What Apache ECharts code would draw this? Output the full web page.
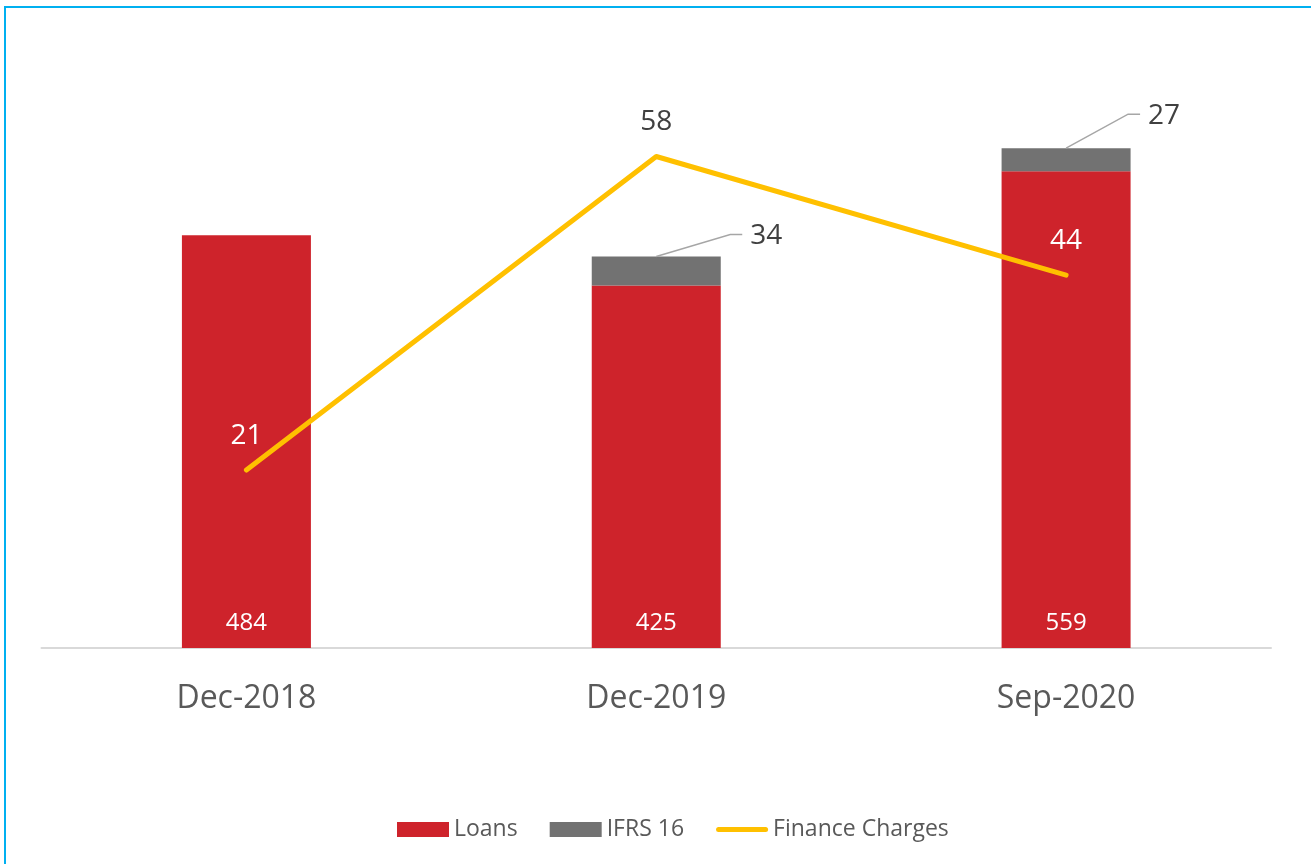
<!DOCTYPE html>
<html>
<head>
<meta charset="utf-8">
<script src="https://cdn.jsdelivr.net/npm/echarts@6/dist/echarts.min.js"></script>
<style>
  html, body { margin: 0; padding: 0; background: #fff; overflow: hidden; }
  #frame { position: absolute; left: 4px; top: 6px; width: 1400px; height: 1000px;
           border-top: 2px solid #00B0F0; border-left: 2px solid #00B0F0; }
  #chart { position: absolute; left: 0; top: 0; width: 1311px; height: 864px; }
</style>
</head>
<body>
<div id="frame"></div>
<div id="chart"></div>
<script>
(function () {
  var categories = ['Dec-2018', 'Dec-2019', 'Sep-2020'];
  var loans = [484, 425, 559];
  var ifrs16 = [0, 34, 27];
  var financeCharges = [21, 58, 44];

  var myChart = echarts.init(document.getElementById('chart'));
  var font = '"Open Sans", "Noto Sans", sans-serif';

  // top of each stack + the IFRS value, for the leader-line labels
  var ifrsLabels = [];
  for (var i = 0; i < categories.length; i++) {
    ifrsLabels.push([i, loans[i] + ifrs16[i], ifrs16[i]]);
  }
  // leader line elbow offsets (as placed in the original)
  var leaderOffsets = [[74, -22], [74, -22], [62, -34]];

  myChart.setOption({
    animation: false,
    textStyle: { fontFamily: font },
    grid: { left: 41.5, right: 40, top: 48, bottom: 216 },
    legend: {
      bottom: 18,
      left: 392,
      itemWidth: 52,
      itemHeight: 15,
      itemGap: 32,
      textStyle: { color: '#595959', fontSize: 23, fontFamily: font },
      data: [
        { name: 'Loans', icon: 'rect' },
        { name: 'IFRS 16', icon: 'rect' },
        { name: 'Finance Charges', icon: 'path://M2.5,0 H49.5 A2.5,2.5 0 0 1 49.5,5 H2.5 A2.5,2.5 0 0 1 2.5,0 Z' }
      ]
    },
    xAxis: {
      type: 'category',
      data: categories,
      axisLine: { lineStyle: { color: '#D9D9D9', width: 2 } },
      axisTick: { show: false },
      axisLabel: { color: '#595959', fontSize: 32, margin: 35, fontFamily: font }
    },
    yAxis: [
      { type: 'value', min: 0, max: 703.4, show: false, splitLine: { show: false } },
      { type: 'value', min: 0, max: 70.8, show: false, splitLine: { show: false } }
    ],
    series: [
      {
        name: 'Loans',
        type: 'bar',
        stack: 'debt',
        barWidth: 129,
        itemStyle: { color: '#CE232B' },
        label: {
          show: true,
          position: 'insideBottom',
          distance: 13,
          color: '#fff',
          fontSize: 24,
          fontFamily: font
        },
        data: loans
      },
      {
        name: 'IFRS 16',
        type: 'bar',
        stack: 'debt',
        barWidth: 129,
        itemStyle: { color: '#727272' },
        data: ifrs16
      },
      {
        name: 'Finance Charges',
        type: 'line',
        yAxisIndex: 1,
        symbol: 'circle',
        symbolSize: 1,
        z: 5,
        lineStyle: { color: '#FFC000', width: 5, cap: 'round', join: 'round' },
        itemStyle: { color: '#FFC000' },
        label: {
          show: true,
          position: 'top',
          distance: 20,
          fontSize: 28,
          fontFamily: font
        },
        data: financeCharges.map(function (v, idx) {
          return {
            value: v,
            label: { color: idx === 1 ? '#404040' : '#fff' }
          };
        })
      },
      {
        name: 'ifrsLabels',
        type: 'custom',
        z: 6,
        silent: true,
        renderItem: function (params, api) {
          if (!api.value(2)) return;
          var p = api.coord([api.value(0), api.value(1)]);
          var off = leaderOffsets[params.dataIndex];
          var mid = [p[0] + off[0], p[1] + off[1]];
          var end = [mid[0] + 12, mid[1]];
          return {
            type: 'group',
            children: [
              {
                type: 'polyline',
                shape: { points: [p, mid, end] },
                style: { stroke: '#A6A6A6', lineWidth: 1.5, fill: null }
              },
              {
                type: 'text',
                style: {
                  x: end[0] + 8,
                  y: mid[1] + 2,
                  text: String(api.value(2)),
                  fill: '#404040',
                  font: '28px ' + font,
                  verticalAlign: 'middle',
                  align: 'left'
                }
              }
            ]
          };
        },
        data: ifrsLabels
      }
    ]
  });

  window.addEventListener('resize', function () {
    myChart.resize();
  });
})();
</script>
</body>
</html>
